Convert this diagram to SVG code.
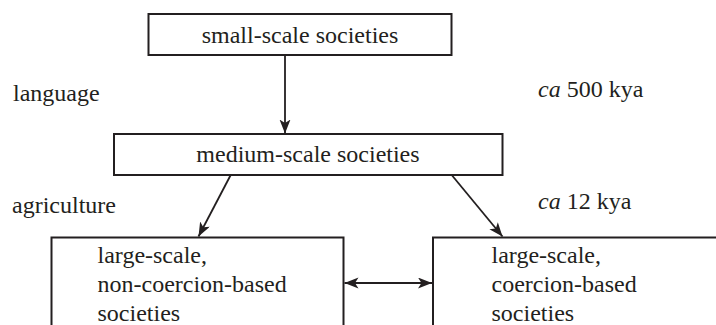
<svg xmlns="http://www.w3.org/2000/svg" width="716" height="325" viewBox="0 0 716 325">
  <style>
    .box { fill: #ffffff; stroke: #231f20; stroke-width: 2; }
    .lbl { font-family: 'Liberation Serif', 'Times New Roman', serif; font-size: 24px; fill: #231f20; }
    .mid { text-anchor: middle; }
    .conn { stroke: #231f20; stroke-width: 1.8; fill: none; }
  </style>
  <defs>
    <marker id="ah" markerUnits="userSpaceOnUse" markerWidth="16" markerHeight="12" refX="14" refY="5.5" orient="auto-start-reverse" viewBox="0 0 16 12">
      <path d="M0,0 L14,5.5 L0,11 L3.5,5.5 Z" fill="#231f20"/>
    </marker>
  </defs>

  <rect width="716" height="325" fill="#ffffff"/>

  <g id="small-scale">
    <rect class="box" x="148.5" y="14" width="303" height="41"/>
    <text class="lbl mid" x="300" y="43">small-scale societies</text>
  </g>

  <g id="medium-scale">
    <rect class="box" x="114" y="134" width="388.5" height="41"/>
    <text class="lbl mid" x="308" y="162">medium-scale societies</text>
  </g>

  <g id="large-non-coercion">
    <rect class="box" x="51.5" y="237.5" width="292" height="100"/>
    <text class="lbl" x="97.5" y="262.5">large-scale,</text>
    <text class="lbl" x="97.5" y="291.5">non-coercion-based</text>
    <text class="lbl" x="97.5" y="320.5">societies</text>
  </g>

  <g id="large-coercion">
    <rect class="box" x="433" y="237.5" width="300" height="100"/>
    <text class="lbl" x="491.5" y="262.5">large-scale,</text>
    <text class="lbl" x="491.5" y="291.5">coercion-based</text>
    <text class="lbl" x="491.5" y="320.5">societies</text>
  </g>

  <g id="labels">
    <text class="lbl" x="13" y="101">language</text>
    <text class="lbl" x="538" y="97"><tspan font-style="italic">ca</tspan> 500 kya</text>
    <text class="lbl" x="12" y="213">agriculture</text>
    <text class="lbl" x="538" y="209"><tspan font-style="italic">ca</tspan> 12 kya</text>
  </g>

  <g id="connectors">
    <line class="conn" x1="285" y1="55" x2="285" y2="133.5" marker-end="url(#ah)"/>
    <line class="conn" x1="230.7" y1="175" x2="198.5" y2="236.5" marker-end="url(#ah)"/>
    <line class="conn" x1="451.7" y1="175" x2="502.5" y2="236.5" marker-end="url(#ah)"/>
    <line class="conn" x1="344.5" y1="283" x2="432" y2="283" marker-start="url(#ah)" marker-end="url(#ah)"/>
  </g>
</svg>
